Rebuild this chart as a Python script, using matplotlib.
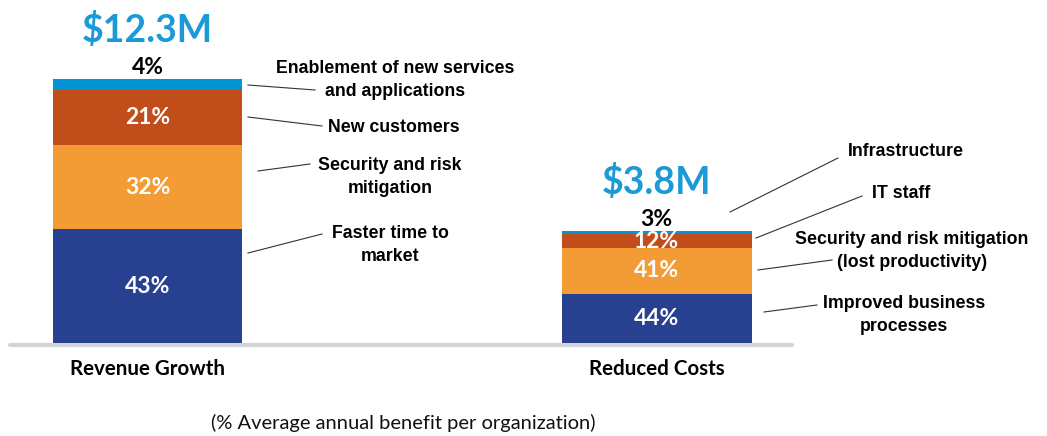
import matplotlib.pyplot as plt

# --- data ---
categories = ["Revenue Growth", "Reduced Costs"]
totals = ["$12.3M", "$3.8M"]
bar_height = [100, 42.4]          # drawn height of each bar (the original is not to dollar scale)
revenue_shares = [43, 32, 21, 4]
cost_shares = [44, 41, 12, 3]
revenue_labels = ["Faster time to\nmarket", "Security and risk\nmitigation",
                  "New customers", "Enablement of new services\nand applications"]
cost_labels = ["Improved business\nprocesses", "Security and risk mitigation\n(lost productivity)",
               "IT staff", "Infrastructure"]
footnote = "(% Average annual benefit per organization)"

colors = ["#27408f", "#f39c35", "#c14d1b", "#0096d6"]
W, H = 1047, 436

fig = plt.figure(figsize=(W / 100, H / 100), dpi=100)
ax = fig.add_axes([0, 0, 1, 1])
ax.set_xlim(-0.2898, 1.767)
ax.set_ylim(-35.2, 129.9)
ax.axis("off")


def px(x, y):
    # figure position from top-left pixel coordinates
    return x / W, 1 - y / H


# baseline
ax.plot([-0.27, 1.266], [-0.8, -0.8], color="#d1d3d4", lw=3, solid_capstyle="round", zorder=1)

bar_w = 0.373
for i, shares in enumerate([revenue_shares, cost_shares]):
    bottom = 0
    for j, s in enumerate(shares):
        h = s / 100 * bar_height[i]
        ax.bar(i, h, bottom=bottom, width=bar_w, color=colors[j], zorder=2)
        if j < len(shares) - 1:
            ax.text(i, bottom + h / 2, f"{s}%", ha="center", va="center", color="white",
                    fontsize=16.5, fontweight="bold", family="Lato", zorder=3)
        else:
            ax.annotate(f"{s}%", (i, bottom + h), xytext=(0, 8), textcoords="offset points",
                        ha="center", va="center", fontsize=16.5, fontweight="bold",
                        family="Lato", color="black")
        bottom += h
    ax.annotate(totals[i], (i, bottom), xytext=(0, 35), textcoords="offset points",
                ha="center", va="center", fontsize=27, fontweight="bold",
                family="Lato", color="#1b9ad7")
    ax.annotate(categories[i], (i, 0), xytext=(0, -19), textcoords="offset points",
                ha="center", va="center", fontsize=14.8, fontweight="bold",
                family="Lato", color="black")

# callouts: label centre, leader line start, leader line end (pixels)
callouts = [
    (revenue_labels[3], (395, 80), (248, 85), (315, 90)),
    (revenue_labels[2], (394, 127), (248, 117), (322, 126)),
    (revenue_labels[1], (390, 177), (258, 171), (310, 164)),
    (revenue_labels[0], (390, 245), (248, 253), (322, 234)),
    (cost_labels[3], (906, 151), (730, 212), (838, 158)),
    (cost_labels[2], (901, 193), (756, 238), (862, 196)),
    (cost_labels[1], (912, 251), (758, 270), (832, 260)),
    (cost_labels[0], (904, 315), (764, 312), (817, 305)),
]
for text, pos, p0, p1 in callouts:
    fig.text(*px(*pos), text, ha="center", va="center", fontsize=12.8,
             fontweight="bold", family="Liberation Sans", linespacing=1.4)
    a, b = px(*p0), px(*p1)
    ax.plot([a[0], b[0]], [a[1], b[1]], transform=fig.transFigure, color="#333333",
            lw=0.8, clip_on=False)

fig.text(*px(403, 423), footnote, ha="center", va="center", fontsize=14.5,
         family="Lato", color="#111111")

fig.savefig("out.png", dpi=100)
